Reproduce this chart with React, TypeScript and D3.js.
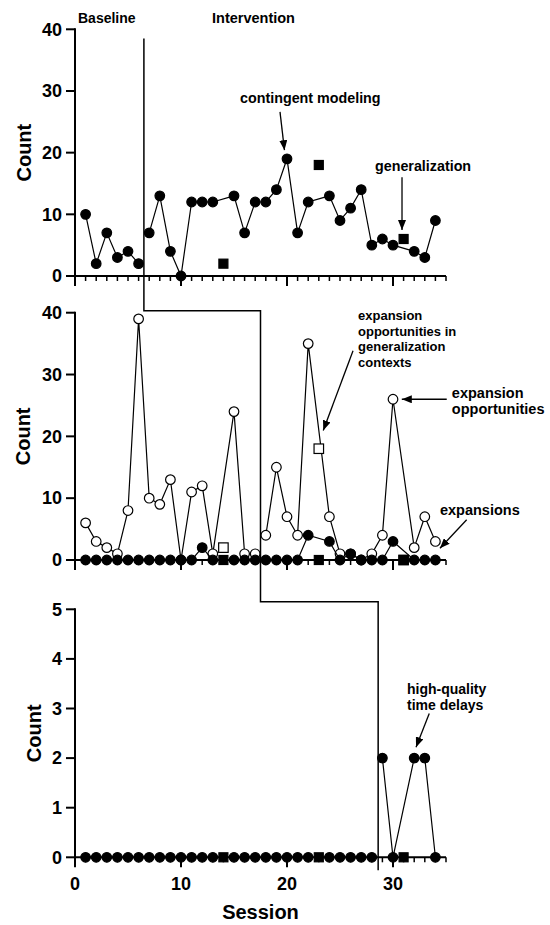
import * as d3 from 'd3';

// sessions 1..34; null = generalization probe session (plotted as square)
const sessions = [1, 2, 3, 4, 5, 6, 7, 8, 9, 10, 11, 12, 13, 14, 15, 16, 17, 18, 19, 20, 21, 22, 23, 24, 25, 26, 27, 28, 29, 30, 31, 32, 33, 34];

const modeling = [10, 2, 7, 3, 4, 2, 7, 13, 4, 0, 12, 12, 12, null, 13, 7, 12, 12, 14, 19, 7, 12, null, 13, 9, 11, 14, 5, 6, 5, null, 4, 3, 9];
const genSessions = [14, 23, 31];
const modelingGen = [2, 18, 6];

const expOpportunities = [6, 3, 2, 1, 8, 39, 10, 9, 13, 0, 11, 12, 1, null, 24, 1, 1, 4, 15, 7, 4, 35, null, 7, 1, 1, 0, 1, 4, 26, null, 2, 7, 3];
const expansions = [0, 0, 0, 0, 0, 0, 0, 0, 0, 0, 0, 2, 0, null, 0, 0, 0, 0, 0, 0, 0, 4, null, 3, 0, 1, 0, 0, 0, 3, null, 0, 0, 0];
const expOpportunitiesGen = [2, 18, 0];
const expansionsGen = [0, 0, 0];

const timeDelays = [0, 0, 0, 0, 0, 0, 0, 0, 0, 0, 0, 0, 0, null, 0, 0, 0, 0, 0, 0, 0, 0, null, 0, 0, 0, 0, 0, 2, 0, null, 2, 2, 0];
const timeDelaysGen = [0, 0, 0];

const phaseChanges = [6.5, 17.5, 28.6];
const xMajorTicks = [0, 10, 20, 30];
const yTicksCount = [0, 10, 20, 30, 40];
const yTicksDelay = [0, 1, 2, 3, 4, 5];

const FONT = '"Liberation Sans", Arial, Helvetica, sans-serif';

const x = d3.scaleLinear().domain([0, 35]).range([75, 446]);
const yTop = d3.scaleLinear().domain([0, 40]).range([276, 29.3]);
const yMid = d3.scaleLinear().domain([0, 40]).range([560, 312.7]);
const yBot = d3.scaleLinear().domain([0, 5]).range([857.3, 609.3]);

type Pt = { s: number; v: number };

const toPoints = (vals: (number | null)[]): Pt[] =>
  sessions.map((s, i) => ({ s, v: vals[i] as number })).filter(d => d.v != null);

// split a series into segments at the phase change (no line across it)
const segments = (pts: Pt[], phase: number) => [pts.filter(d => d.s < phase), pts.filter(d => d.s > phase)];

function Axes({ y, ticks, labelX, labels }: { y: d3.ScaleLinear<number, number>; ticks: number[]; labelX: number; labels: boolean }) {
  const y0 = y(0);
  const [yMin, yMax] = y.range();
  return (
    <g>
      <line x1={x(0) - 1} x2={x(35)} y1={y0} y2={y0} stroke="#000" strokeWidth={2} />
      <line x1={x(0)} x2={x(0)} y1={yMin} y2={yMax - 1} stroke="#000" strokeWidth={2} />
      {d3.range(0, 36).map(t => {
        const major = xMajorTicks.includes(t);
        return (
          <line key={t} x1={x(t)} x2={x(t)} y1={y0} y2={y0 + (major ? 10 : 5)} stroke="#000" strokeWidth={major ? 2 : 1.5} />
        );
      })}
      {ticks.map(t => (
        <g key={t}>
          <line x1={x(0) - 9} x2={x(0)} y1={y(t)} y2={y(t)} stroke="#000" strokeWidth={2} />
          <text x={x(0) - 13} y={y(t)} dy="0.35em" textAnchor="end" fontSize={18} fontWeight="bold" fontFamily={FONT}>{t}</text>
        </g>
      ))}
      <text transform={`translate(${labelX},${(yMin + yMax) / 2}) rotate(-90)`} textAnchor="middle" dy="0.35em"
        fontSize={20} fontWeight="bold" fontFamily={FONT}>Count</text>
      {labels && xMajorTicks.map(t => (
        <text key={t} x={x(t)} y={y0 + 26} dy="0.35em" textAnchor="middle" fontSize={18} fontWeight="bold" fontFamily={FONT}>{t}</text>
      ))}
    </g>
  );
}

function Series({ vals, y, phase, open }: { vals: (number | null)[]; y: d3.ScaleLinear<number, number>; phase: number; open: boolean }) {
  const pts = toPoints(vals);
  const line = d3.line<Pt>().x(d => x(d.s)).y(d => y(d.v));
  return (
    <g>
      {segments(pts, phase).map((seg, i) => (
        <path key={i} d={line(seg) || ''} fill="none" stroke="#000" strokeWidth={1.2} />
      ))}
      {pts.map(d => (
        <circle key={d.s} cx={x(d.s)} cy={y(d.v)} r={4.8} fill={open ? '#fff' : '#000'} stroke="#000" strokeWidth={1.2} />
      ))}
    </g>
  );
}

function Squares({ vals, y, open }: { vals: number[]; y: d3.ScaleLinear<number, number>; open: boolean }) {
  const size = open ? 9.5 : 9;
  return (
    <g>
      {genSessions.map((s, i) => (
        <rect key={s} x={x(s) - size / 2} y={y(vals[i]) - size / 2} width={size} height={size}
          fill={open ? '#fff' : '#000'} stroke="#000" strokeWidth={1.2} />
      ))}
    </g>
  );
}

function Arrow({ x1, y1, x2, y2 }: { x1: number; y1: number; x2: number; y2: number }) {
  return <line x1={x1} y1={y1} x2={x2} y2={y2} stroke="#000" strokeWidth={1.3} markerEnd="url(#head)" />;
}

function Label({ x0, y0, lines, size, anchor = 'start', gap }: { x0: number; y0: number; lines: string[]; size: number; anchor?: string; gap: number }) {
  return (
    <text x={x0} y={y0} fontSize={size} fontWeight="bold" fontFamily={FONT} textAnchor={anchor}>
      {lines.map((l, i) => (
        <tspan key={i} x={x0} dy={i === 0 ? 0 : gap}>{l}</tspan>
      ))}
    </text>
  );
}

export default function App() {
  const [p1, p2, p3] = phaseChanges;
  const yPhaseTop = yMid(40.3);
  const yPhaseBot = yBot(5.15);
  const phasePath = [
    [x(p1), yTop(38.5)], [x(p1), yPhaseTop], [x(p2), yPhaseTop],
    [x(p2), yPhaseBot], [x(p3), yPhaseBot], [x(p3), yBot(0) + 13],
  ].map(([a, b], i) => `${i ? 'L' : 'M'}${a},${b}`).join('');

  return (
    <svg width={550} height={925} style={{ position: 'absolute', left: 0, top: 0, background: '#fff' }}>
      <defs>
        <marker id="head" viewBox="0 0 10 8" refX={10} refY={4} markerWidth={10} markerHeight={8} markerUnits="userSpaceOnUse" orient="auto">
          <path d="M0,0L10,4L0,8z" fill="#000" />
        </marker>
      </defs>

      {/* top panel: contingent modeling */}
      <Axes y={yTop} ticks={yTicksCount} labelX={23.5} labels={false} />
      <Series vals={modeling} y={yTop} phase={p1} open={false} />
      <Squares vals={modelingGen} y={yTop} open={false} />

      {/* middle panel: expansions */}
      <Axes y={yMid} ticks={yTicksCount} labelX={22.5} labels={false} />
      <Series vals={expOpportunities} y={yMid} phase={p2} open={true} />
      <Squares vals={expOpportunitiesGen} y={yMid} open={true} />
      <Series vals={expansions} y={yMid} phase={p2} open={false} />
      <Squares vals={expansionsGen} y={yMid} open={false} />

      {/* bottom panel: time delays */}
      <Axes y={yBot} ticks={yTicksDelay} labelX={33.5} labels={true} />
      <Series vals={timeDelays} y={yBot} phase={p3} open={false} />
      <Squares vals={timeDelaysGen} y={yBot} open={false} />

      <path d={phasePath} fill="none" stroke="#000" strokeWidth={1.5} />

      <text x={x(17.5)} y={918.5} textAnchor="middle" fontSize={20} fontWeight="bold" fontFamily={FONT}>Session</text>

      {/* annotations */}
      <Label x0={78} y0={23} lines={['Baseline']} size={14} gap={0} />
      <Label x0={212} y0={23} lines={['Intervention']} size={14.5} gap={0} />

      <Label x0={x(22.2)} y0={yTop(28)} lines={['contingent modeling']} size={14.3} anchor="middle" gap={0} />
      <Arrow x1={x(19.34)} y1={yTop(26.6)} x2={x(19.76)} y2={yTop(20.4)} />
      <Label x0={x(28.3)} y0={yTop(17)} lines={['generalization']} size={14.3} gap={0} />
      <Arrow x1={x(30.85)} y1={yTop(16)} x2={x(30.85)} y2={yTop(7.45)} />

      <Label x0={x(26.7)} y0={320} lines={['expansion', 'opportunities in', 'generalization', 'contexts']} size={13} gap={15.5} />
      <Arrow x1={x(26.23)} y1={yMid(33.85)} x2={x(23.42)} y2={yMid(20.95)} />
      <Label x0={x(35.55)} y0={yMid(26.2)} lines={['expansion', 'opportunities']} size={14.5} gap={16.3} />
      <Arrow x1={x(35.07)} y1={yMid(26)} x2={x(30.83)} y2={yMid(26)} />
      <Label x0={x(34.43)} y0={yMid(7.3)} lines={['expansions']} size={14.5} gap={0} />
      <Arrow x1={x(36.95)} y1={yMid(6.5)} x2={x(34.43)} y2={yMid(1.9)} />

      <Label x0={x(31.32)} y0={yBot(3.3)} lines={['high-quality', 'time delays']} size={14} gap={16.7} />
      <Arrow x1={x(33.42)} y1={yBot(2.9)} x2={x(32.17)} y2={yBot(2.22)} />
    </svg>
  );
}
